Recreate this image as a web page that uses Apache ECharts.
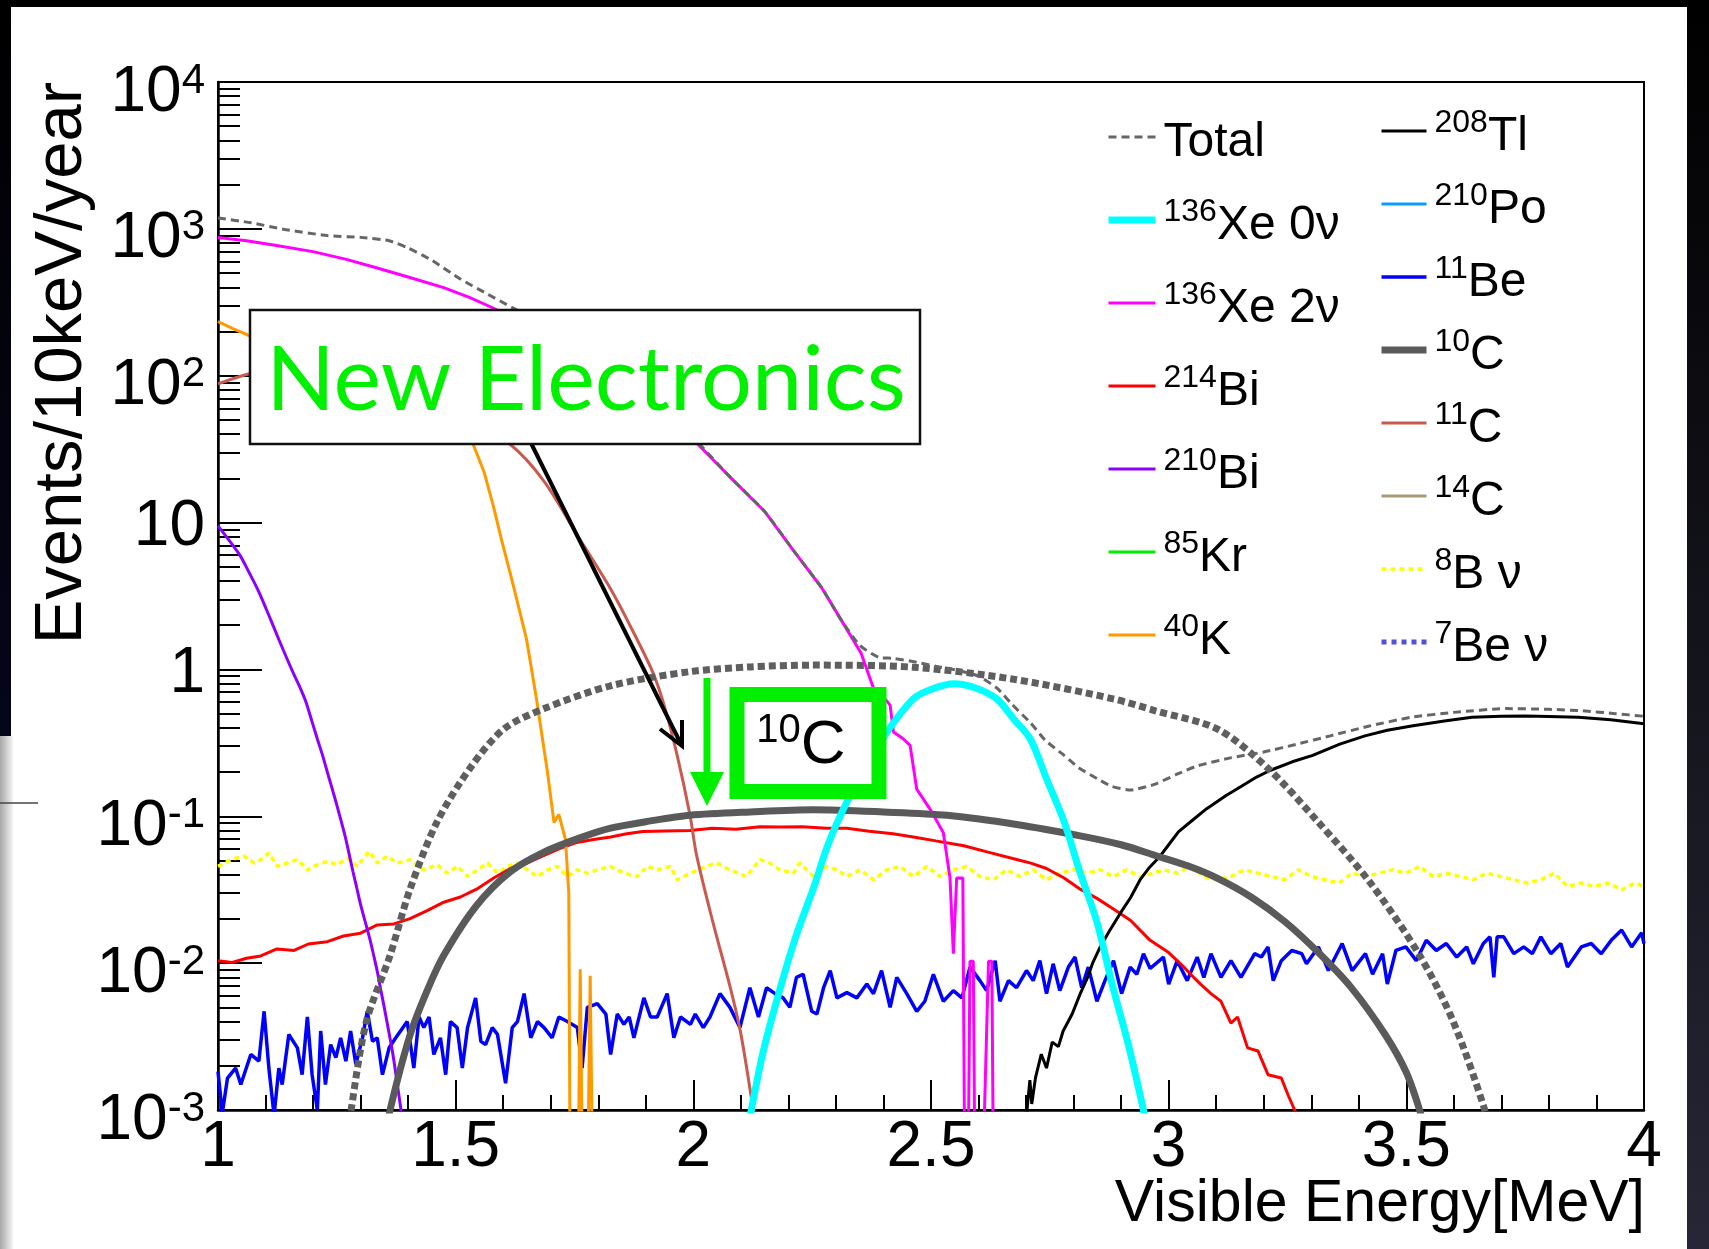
<!DOCTYPE html>
<html><head><meta charset="utf-8">
<script src="https://cdn.jsdelivr.net/npm/echarts@6/dist/echarts.min.js"></script>
<style>html,body{margin:0;padding:0;background:#fff;}#c{width:1709px;height:1249px;}</style>
</head><body><div id="c"></div>
<script>
// ---------------- data (energy in MeV, events/10keV/year) ----------------
const xTickLabels = ['1','1.5','2','2.5','3','3.5','4'];
const yMajorTicks = [0.001,0.01,0.1,1,10,100,1000,10000];

const totalE = [1.00,1.07,1.14,1.23,1.30,1.36,1.40,1.45,1.51,1.56,1.62,1.68,1.74,1.80,1.87,1.94,2.01,2.08,2.15,2.21,2.27,2.31,2.35,2.39,2.42,2.47,2.51,2.56,2.60,2.64,2.67,2.71,2.74,2.78,2.81,2.85,2.88,2.92,2.97,3.02,3.06,3.13,3.20,3.27,3.34,3.42,3.51,3.60,3.71,3.80,3.87,3.94,4.00];
const totalV = [1186,1100,990,900,875,830,740,610,455,370,290,230,182,138,100,60,35,20,11.9,6.5,3.6,2.2,1.46,1.21,1.19,1.12,1.05,0.98,0.90,0.74,0.58,0.43,0.33,0.26,0.215,0.18,0.16,0.151,0.165,0.195,0.22,0.25,0.274,0.31,0.353,0.41,0.472,0.51,0.541,0.535,0.523,0.50,0.48];

const xe0E = [2.110,2.122,2.147,2.183,2.216,2.252,2.284,2.323,2.365,2.408,2.463,2.502,2.548,2.594,2.638,2.674,2.709,2.743,2.780,2.812,2.849,2.883,2.915,2.947,2.960];
const xe0V = [0.0006,0.001,0.0025,0.0068,0.0153,0.0319,0.065,0.125,0.223,0.378,0.631,0.736,0.80,0.748,0.631,0.46,0.336,0.18,0.092,0.043,0.0191,0.0068,0.0028,0.001,0.0006];

const xe2E = [1.00,1.06,1.12,1.20,1.27,1.335,1.40,1.475,1.53,1.58,1.65,1.73,1.80,1.87,1.94,2.01,2.08,2.15,2.21,2.27,2.31,2.353,2.379,2.40,2.414,2.421,2.44,2.456,2.470,2.498,2.526,2.540,2.547,2.554,2.567,2.574,2.582,2.589,2.596,2.621,2.628,2.635];
const xe2V = [873,830,774,700,620,541,470,398,340,288,215,158,120,92,58,34,20,11.9,6.5,3.6,2.2,1.29,0.745,0.65,0.571,0.375,0.34,0.304,0.153,0.112,0.0773,0.038,0.0116,0.038,0.038,0.00001,0.0103,0.0103,0.00001,0.0103,0.0103,0.00001];

const bi214E = [1.000,1.03,1.06,1.09,1.124,1.16,1.19,1.23,1.264,1.30,1.335,1.37,1.404,1.44,1.475,1.51,1.544,1.58,1.615,1.65,1.686,1.72,1.755,1.79,1.826,1.86,1.894,1.94,1.993,2.04,2.09,2.14,2.183,2.23,2.28,2.323,2.37,2.42,2.463,2.51,2.569,2.62,2.674,2.71,2.743,2.78,2.814,2.85,2.883,2.92,2.961,3.00,3.032,3.046,3.067,3.089,3.110,3.131,3.145,3.166,3.188,3.209,3.237,3.251,3.268,3.28];
const bi214V = [0.0104,0.0101,0.0108,0.0112,0.0125,0.0122,0.0135,0.0140,0.0153,0.0160,0.0182,0.0185,0.0201,0.0228,0.026,0.0282,0.0319,0.038,0.0441,0.048,0.0541,0.0605,0.0664,0.0695,0.0723,0.0760,0.0787,0.0795,0.080,0.0830,0.0815,0.0850,0.0844,0.0850,0.0830,0.083,0.0790,0.0760,0.0723,0.0680,0.063,0.0570,0.0514,0.0480,0.0441,0.0380,0.0319,0.0275,0.0235,0.0195,0.0143,0.0118,0.0094,0.0084,0.0072,0.0062,0.0055,0.0039,0.0043,0.00265,0.00252,0.00174,0.00165,0.00127,0.00095,0.0007];

const bi210E = [1.000,1.023,1.046,1.065,1.083,1.101,1.119,1.138,1.158,1.172,1.185,1.197,1.209,1.220,1.230,1.240,1.250,1.259,1.268,1.276,1.284,1.292,1.300,1.310,1.319,1.327,1.335,1.342,1.349,1.358,1.367,1.376,1.385,1.392];
const bi210V = [9.5,7.6,6.0,4.6,3.53,2.6,1.88,1.34,0.95,0.76,0.60,0.45,0.336,0.26,0.20,0.155,0.119,0.093,0.072,0.055,0.0419,0.0325,0.025,0.019,0.0148,0.0115,0.0088,0.0067,0.00514,0.0036,0.0025,0.0016,0.001,0.0007];

const k40E = [1.000,1.030,1.060,1.138,1.275,1.413,1.48,1.537,1.560,1.580,1.597,1.615,1.632,1.649,1.670,1.693,1.707,1.717,1.731,1.738,1.743,1.753,1.762,1.772,1.783,1.794];
const k40V = [234,210,191,141,92,60,46,34,22,12.7,7.5,4.49,2.7,1.61,0.631,0.201,0.0906,0.103,0.0695,0.0299,0.00001,0.00001,0.0091,0.00001,0.0082,0.00001];

const tl208E = [2.695,2.702,2.708,2.712,2.720,2.732,2.743,2.755,2.768,2.778,2.797,2.814,2.828,2.840,2.856,2.875,2.898,2.92,2.940,2.96,2.982,3.00,3.021,3.05,3.080,3.12,3.154,3.185,3.213,3.26,3.303,3.36,3.413,3.46,3.511,3.58,3.638,3.70,3.750,3.80,3.862,3.93,4.00];
const tl208V = [0.0007,0.001,0.0016,0.0011,0.00167,0.0024,0.00193,0.0029,0.0027,0.00345,0.0045,0.0062,0.0078,0.0100,0.0129,0.0165,0.0218,0.028,0.037,0.045,0.0535,0.064,0.0787,0.094,0.1127,0.138,0.161,0.185,0.205,0.235,0.26,0.31,0.353,0.385,0.412,0.445,0.472,0.48,0.482,0.478,0.472,0.455,0.426];

const be11E = [1.000,1.009,1.020,1.037,1.048,1.069,1.086,1.097,1.107,1.118,1.128,1.135,1.149,1.167,1.177,1.188,1.198,1.209,1.216,1.226,1.237,1.248,1.258,1.269,1.279,1.290,1.304,1.314,1.325,1.335,1.346,1.360,1.374,1.384,1.398,1.412,1.423,1.433,1.444,1.454,1.468,1.479,1.489,1.503,1.514,1.525,1.542,1.553,1.563,1.577,1.588,1.605,1.619,1.630,1.644,1.658,1.672,1.686,1.703,1.717,1.735,1.756,1.766,1.777,1.798,1.816,1.826,1.840,1.854,1.865,1.875,1.896,1.910,1.924,1.945,1.959,1.973,1.994,2.004,2.021,2.035,2.056,2.077,2.098,2.119,2.137,2.154,2.172,2.189,2.203,2.217,2.231,2.249,2.260,2.274,2.288,2.302,2.323,2.344,2.365,2.379,2.396,2.414,2.428,2.449,2.470,2.487,2.505,2.526,2.547,2.565,2.582,2.603,2.617,2.635,2.645,2.663,2.680,2.701,2.715,2.729,2.743,2.757,2.771,2.789,2.803,2.817,2.831,2.849,2.866,2.884,2.901,2.919,2.933,2.947,2.961,2.989,3.000,3.018,3.039,3.060,3.074,3.089,3.110,3.131,3.152,3.181,3.195,3.209,3.220,3.237,3.259,3.280,3.290,3.315,3.336,3.365,3.386,3.414,3.429,3.450,3.460,3.478,3.499,3.521,3.542,3.563,3.584,3.606,3.627,3.641,3.662,3.676,3.684,3.691,3.705,3.726,3.747,3.765,3.783,3.804,3.825,3.839,3.868,3.889,3.910,3.931,3.953,3.974,3.995,4.000];
const be11V = [0.00183,0.00095,0.00165,0.00193,0.00149,0.00239,0.00215,0.0047,0.00193,0.00092,0.00193,0.00149,0.00327,0.00265,0.00174,0.0043,0.00174,0.001,0.00345,0.00149,0.00279,0.00227,0.0031,0.00215,0.00345,0.00205,0.0031,0.0047,0.00294,0.0031,0.00174,0.00265,0.0031,0.00345,0.0040,0.00193,0.0043,0.00364,0.0043,0.00239,0.0031,0.00174,0.0040,0.00364,0.00193,0.00364,0.0058,0.00294,0.00279,0.00364,0.00327,0.00152,0.00364,0.0040,0.0062,0.0031,0.0040,0.00364,0.0031,0.0043,0.0040,0.00364,0.00193,0.0050,0.0053,0.0045,0.00239,0.0045,0.00383,0.0043,0.0031,0.0058,0.0043,0.0043,0.0062,0.0031,0.0043,0.00383,0.0045,0.00364,0.0043,0.0062,0.0050,0.00364,0.0068,0.0043,0.0068,0.0062,0.0058,0.0050,0.0080,0.0084,0.0047,0.0045,0.0068,0.0089,0.0058,0.0063,0.0058,0.0072,0.0062,0.0089,0.0050,0.0080,0.0062,0.0047,0.0055,0.0084,0.0055,0.0065,0.0058,0.0094,0.0076,0.0065,0.0104,0.0055,0.0076,0.0068,0.0089,0.0076,0.0104,0.0062,0.0099,0.0065,0.0094,0.0110,0.0068,0.0094,0.0055,0.0076,0.0104,0.0062,0.0094,0.0084,0.0116,0.0092,0.0110,0.0072,0.0104,0.0076,0.0110,0.0080,0.0116,0.0080,0.0104,0.0080,0.0116,0.0110,0.0129,0.0076,0.0104,0.0122,0.0116,0.0099,0.0129,0.0089,0.0136,0.0089,0.0116,0.0084,0.0116,0.0072,0.0122,0.0129,0.0104,0.0143,0.0122,0.0136,0.0110,0.0129,0.0099,0.0136,0.0151,0.0080,0.0151,0.0151,0.0116,0.0129,0.0116,0.0151,0.0116,0.0136,0.0094,0.0129,0.0136,0.0116,0.0143,0.0168,0.0129,0.0161,0.0136];

const c10E = [1.355,1.362,1.404,1.440,1.475,1.544,1.615,1.686,1.760,1.826,1.910,1.993,2.12,2.252,2.40,2.534,2.68,2.814,2.90,2.972,3.04,3.103,3.175,3.245,3.315,3.385,3.456,3.50,3.528,3.535];
const c10V = [0.0007,0.001,0.00324,0.0065,0.0113,0.0247,0.0419,0.057,0.071,0.083,0.093,0.1016,0.107,0.1107,0.107,0.1016,0.088,0.0736,0.064,0.0541,0.046,0.0378,0.028,0.0191,0.0118,0.00676,0.00324,0.0018,0.001,0.0008];

const c10oldE = [1.275,1.280,1.312,1.362,1.404,1.461,1.530,1.601,1.686,1.826,1.993,2.12,2.252,2.463,2.674,2.883,2.972,3.103,3.209,3.314,3.422,3.528,3.599,3.665,3.672];
const c10oldV = [0.0007,0.001,0.00398,0.0113,0.0319,0.0918,0.212,0.392,0.541,0.774,0.966,1.04,1.07,1.035,0.857,0.631,0.523,0.392,0.212,0.0918,0.036,0.0113,0.00398,0.001,0.0007];

const c11E = [1.000,1.060,1.12,1.183,1.25,1.321,1.39,1.459,1.50,1.55,1.615,1.686,1.755,1.826,1.87,1.915,1.94,1.966,1.993,2.007,2.041,2.078,2.10,2.126,2.132];
const c11V = [88,102,112,119,115,100,80,65,52,42.7,34,19.1,8.3,3.53,1.9,0.95,0.55,0.26,0.1016,0.054,0.0191,0.00676,0.0033,0.001,0.0007];

const b8E = [1.000,1.027,1.055,1.076,1.090,1.107,1.125,1.146,1.167,1.188,1.209,1.230,1.251,1.272,1.293,1.318,1.335,1.356,1.377,1.405,1.433,1.461,1.482,1.504,1.525,1.546,1.567,1.588,1.609,1.630,1.651,1.672,1.693,1.714,1.735,1.756,1.777,1.798,1.826,1.854,1.882,1.903,1.924,1.952,1.966,1.994,2.028,2.049,2.077,2.112,2.140,2.161,2.182,2.210,2.224,2.253,2.281,2.302,2.323,2.351,2.379,2.407,2.435,2.463,2.491,2.519,2.547,2.575,2.603,2.631,2.659,2.687,2.715,2.743,2.771,2.799,2.828,2.856,2.884,2.912,2.940,2.968,2.989,3.018,3.046,3.074,3.103,3.131,3.159,3.188,3.216,3.244,3.273,3.301,3.329,3.358,3.386,3.414,3.443,3.471,3.499,3.528,3.556,3.584,3.613,3.641,3.669,3.698,3.726,3.754,3.783,3.811,3.839,3.868,3.896,3.924,3.953,3.981,4.000];
const b8V = [0.0456,0.0507,0.0535,0.0481,0.0507,0.0563,0.0456,0.0481,0.0507,0.0432,0.0468,0.0493,0.0468,0.0520,0.0456,0.0578,0.0481,0.0535,0.0481,0.0507,0.0432,0.0468,0.0410,0.0456,0.0389,0.0432,0.0481,0.0410,0.0456,0.0481,0.0432,0.0389,0.0432,0.0456,0.0389,0.0432,0.0410,0.0432,0.0456,0.0410,0.0389,0.0456,0.0432,0.0456,0.0370,0.0410,0.0456,0.0481,0.0432,0.0389,0.0507,0.0481,0.0432,0.0410,0.0481,0.0389,0.0456,0.0432,0.0389,0.0432,0.0370,0.0432,0.0456,0.0389,0.0456,0.0389,0.0432,0.0456,0.0389,0.0370,0.0432,0.0389,0.0432,0.0370,0.0410,0.0432,0.0410,0.0432,0.0389,0.0432,0.0389,0.0410,0.0432,0.0410,0.0456,0.0389,0.0370,0.0389,0.0432,0.0410,0.0389,0.0370,0.0432,0.0389,0.0370,0.0351,0.0410,0.0389,0.0410,0.0432,0.0410,0.0456,0.0389,0.0410,0.0389,0.0370,0.0410,0.0389,0.0370,0.0351,0.0370,0.0410,0.0333,0.0351,0.0333,0.0351,0.0316,0.0351,0.0333];

const legendCol1 = ['Total','136Xe 0ν','136Xe 2ν','214Bi','210Bi','85Kr','40K'];
const legendCol2 = ['208Tl','210Po','11Be','10C','11C','14C','8B ν','7Be ν'];

// ---------------- chart ----------------
const FONT = '"Liberation Sans", Arial, Helvetica, sans-serif';
const zip = (E, V) => E.map((e, i) => [e, V[i]]);
function ln(name, E, V, color, width, type, z, smooth) {
  return { name, type: 'line', data: E ? zip(E, V) : [], showSymbol: false, symbol: 'none',
    smooth: smooth || false, clip: true, z: z || 2, silent: true,
    lineStyle: { color, width, type: type || 'solid' }, itemStyle: { color } };
}
const yMinorTicks = [];
for (let d = -3; d < 4; d++) for (let m = 2; m <= 9; m++) yMinorTicks.push(m * Math.pow(10, d));

const series = [
  ln('11Be', be11E, be11V, '#0000ff', 3.5, 'solid', 2),
  ln('8B ν', b8E, b8V, '#ffff00', 3.5, [5, 4], 2),
  ln('214Bi', bi214E, bi214V, '#ff0000', 3, 'solid', 3),
  ln('210Bi', bi210E, bi210V, '#8c00ff', 3, 'solid', 3, 0.3),
  ln('40K', k40E, k40V, '#ff9900', 3, 'solid', 3),
  ln('11C', c11E, c11V, '#c85a50', 3, 'solid', 3, 0.3),
  ln('136Xe 2ν', xe2E, xe2V, '#ff00ff', 3, 'solid', 4),
  ln('208Tl', tl208E, tl208V, '#000000', 3, 'solid', 4),
  ln('10C', c10E, c10V, '#5a5a5a', 7, 'solid', 5, 0.3),
  ln('10C before', c10oldE, c10oldV, '#5f5f5f', 7, [7, 4], 5, 0.3),
  ln('136Xe 0ν', xe0E, xe0V, '#00ffff', 7, 'solid', 6, 0.3),
  ln('Total', totalE, totalV, '#666666', 3, [8, 5], 7, 0.2),
  ln('85Kr', null, null, '#00ee00', 3),
  ln('210Po', null, null, '#0a9bff', 3),
  ln('14C', null, null, '#a89b74', 3),
  ln('7Be ν', null, null, '#5050dd', 5, [5, 5])
];

const legendRich = {
  g: { width: 3, fontSize: 10 },
  s: { fontSize: 32, lineHeight: 32, verticalAlign: 'top', fontFamily: FONT, color: '#000' },
  m: { fontSize: 48, lineHeight: 48, padding: [12, 0, 0, 0], fontFamily: FONT, color: '#000' }
};
function legendFmt(name) {
  const mm = name.match(/^(\d+)(.*)$/);
  return mm ? '{g| }{s|' + mm[1] + '}{m|' + mm[2] + '}' : '{g| }{m|' + name + '}';
}
function legendBase(names, left, top, w, gap) {
  return { data: names, left, top, orient: 'vertical', itemWidth: w, itemHeight: 16, itemGap: gap,
    selectedMode: false, formatter: legendFmt,
    itemStyle: { opacity: 0 },
    lineStyle: { width: 'inherit' },
    textStyle: { rich: legendRich, fontFamily: FONT, color: '#000' } };
}

const axisBlack = { color: '#000', width: 2.5 };
const option = {
  animation: false,
  backgroundColor: '#ffffff',
  grid: { left: 218, top: 82, width: 1426, height: 1028, show: true, borderColor: '#000', borderWidth: 2, backgroundColor: 'transparent' },
  xAxis: [
    { type: 'value', min: 1, max: 4, interval: 0.5, position: 'bottom',
      axisLine: { onZero: false, lineStyle: axisBlack },
      axisTick: { inside: true, length: 30, lineStyle: { color: '#000', width: 2 } },
      axisLabel: { fontSize: 64, fontFamily: FONT, color: '#000', margin: 6,
        formatter: (v, i) => xTickLabels[i] },
      splitLine: { show: false } },
    { type: 'value', min: 1, max: 4, interval: 0.1, position: 'bottom',
      axisLine: { show: false, onZero: false },
      axisTick: { inside: true, length: 15, lineStyle: { color: '#000', width: 2 } },
      axisLabel: { show: false }, splitLine: { show: false } }
  ],
  yAxis: [
    { type: 'log', logBase: 10, min: 0.001, max: 10000, position: 'left',
      axisLine: { onZero: false, lineStyle: axisBlack },
      axisTick: { inside: true, length: 44, customValues: yMajorTicks, lineStyle: { color: '#000', width: 2 } },
      axisLabel: { customValues: yMajorTicks, margin: 13, color: '#000', fontFamily: FONT,
        formatter: v => {
          const e = Math.round(Math.log10(v));
          if (e === 0) return '{p|1}';
          if (e === 1) return '{p|10}';
          return '{b|10}{s|' + e + '}';
        },
        rich: {
          b: { fontSize: 64, lineHeight: 64, padding: [22, 0, 0, 0], fontFamily: FONT, color: '#000' },
          s: { fontSize: 42, lineHeight: 42, padding: [10, 0, 0, 0], verticalAlign: 'top', fontFamily: FONT, color: '#000' },
          p: { fontSize: 64, lineHeight: 64, padding: [10, 0, 0, 0], fontFamily: FONT, color: '#000' }
        } },
      splitLine: { show: false } },
    { type: 'log', logBase: 10, min: 0.001, max: 10000, position: 'left',
      axisLine: { show: false, onZero: false },
      axisTick: { inside: true, length: 22, customValues: yMinorTicks, lineStyle: { color: '#000', width: 2 } },
      axisLabel: { show: false }, splitLine: { show: false } }
  ],
  legend: [
    legendBase(legendCol1, 1100, 102, 47, 23),
    legendBase(legendCol2, 1373, 96, 45, 13)
  ],
  series,
  graphic: [
    { type: 'rect', silent: true, z: -1, shape: { x: 0, y: 0, width: 1709, height: 7 }, style: { fill: '#000' } },
    { type: 'rect', silent: true, z: -1, shape: { x: 0, y: 0, width: 11, height: 736 },
      style: { fill: { type: 'linear', x: 0, y: 0, x2: 0, y2: 1, colorStops: [{ offset: 0, color: '#000' }, { offset: 1, color: '#06061a' }] } } },
    { type: 'rect', silent: true, z: -1, shape: { x: 0, y: 736, width: 13, height: 513 },
      style: { fill: { type: 'linear', x: 0, y: 0, x2: 1, y2: 0, colorStops: [{ offset: 0, color: '#a8a8a8' }, { offset: 1, color: '#f4f4f4' }] } } },
    { type: 'line', silent: true, z: -1, shape: { x1: 0, y1: 803, x2: 38, y2: 803 }, style: { stroke: '#444', lineWidth: 1.5 } },
    { type: 'rect', silent: true, z: -1, shape: { x: 1687, y: 0, width: 22, height: 1249 },
      style: { fill: { type: 'linear', x: 0, y: 0, x2: 0, y2: 1, colorStops: [{ offset: 0, color: '#000' }, { offset: 1, color: '#262636' }] } } },
    // axis titles
    { type: 'text', silent: true, x: 63, y: 82, rotation: Math.PI / 2,
      style: { text: 'Events/10keV/year', fontSize: 67, fontFamily: FONT, fill: '#000', align: 'right', verticalAlign: 'middle' } },
    { type: 'text', silent: true, x: 1645, y: 1205,
      style: { text: 'Visible Energy[MeV]', fontSize: 59, fontFamily: FONT, fill: '#000', align: 'right', verticalAlign: 'middle' } },
    // black arrow
    { type: 'line', silent: true, z: 90, shape: { x1: 515, y1: 411, x2: 681, y2: 744 }, style: { stroke: '#000', lineWidth: 4 } },
    { type: 'polyline', silent: true, z: 90, shape: { points: [[660, 729], [682, 746], [682, 720]] }, style: { stroke: '#000', lineWidth: 4, fill: null } },
    // New Electronics box
    { type: 'rect', silent: true, z: 100, shape: { x: 250, y: 310, width: 670, height: 134 }, style: { fill: '#fff', stroke: '#111', lineWidth: 2.5 } },
    { type: 'text', silent: true, z: 101, x: 586, y: 381,
      style: { text: 'New Electronics', fontSize: 90, fontFamily: 'Lato, "Open Sans", sans-serif', fill: '#00f000', align: 'center', verticalAlign: 'middle' } },
    // green arrow
    { type: 'rect', silent: true, z: 100, shape: { x: 703.5, y: 678, width: 7, height: 100 }, style: { fill: '#00f000' } },
    { type: 'polygon', silent: true, z: 100, shape: { points: [[690, 772], [724, 772], [707, 806]] }, style: { fill: '#00f000' } },
    // 10C box
    { type: 'rect', silent: true, z: 100, shape: { x: 737, y: 694.5, width: 142, height: 97 }, style: { fill: '#fff', stroke: '#00f000', lineWidth: 15 } },
    { type: 'text', silent: true, z: 101, x: 801, y: 742,
      style: { text: '{s|10}{c|C}', align: 'center', verticalAlign: 'middle',
        rich: { s: { fontSize: 40, lineHeight: 40, verticalAlign: 'top', fontFamily: FONT, fill: '#000' },
                c: { fontSize: 62, lineHeight: 62, padding: [8, 0, 0, 0], fontFamily: FONT, fill: '#000' } } } }
  ]
};
const chart = echarts.init(document.getElementById('c'), null, { renderer: 'canvas' });
chart.setOption(option);
</script></body></html>
